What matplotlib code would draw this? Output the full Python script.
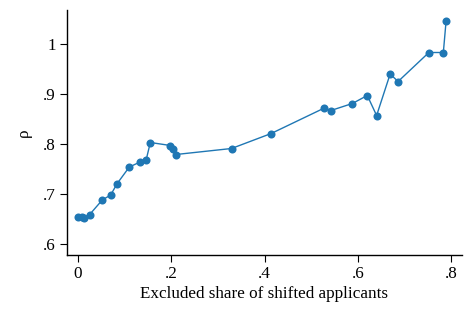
import matplotlib
matplotlib.use("Agg")
import matplotlib.pyplot as plt

share_excluded = [0.001, 0.009, 0.0135, 0.025, 0.052, 0.070, 0.084, 0.110, 0.133, 0.146,
                  0.155, 0.198, 0.204, 0.210, 0.329, 0.414, 0.528, 0.542, 0.588, 0.620,
                  0.640, 0.669, 0.686, 0.752, 0.783, 0.789]
rho = [0.654, 0.655, 0.652, 0.659, 0.688, 0.698, 0.721, 0.754, 0.764, 0.768,
       0.803, 0.797, 0.791, 0.779, 0.791, 0.821, 0.872, 0.867, 0.881, 0.897,
       0.857, 0.940, 0.925, 0.983, 0.983, 1.047]

x_ticks = [0, 0.2, 0.4, 0.6, 0.8]
x_ticklabels = ["0", ".2", ".4", ".6", ".8"]
y_ticks = [0.6, 0.7, 0.8, 0.9, 1.0]
y_ticklabels = [".6", ".7", ".8", ".9", "1"]

plt.rcParams['font.family'] = ['Liberation Serif', 'DejaVu Serif']

fig = plt.figure(figsize=(4.65, 3.09), dpi=100)
ax = fig.add_axes([67/465, 1-255/309, (462-67)/465, (255-10)/309])
ax.plot(share_excluded, rho, color='#1f77b4', linewidth=1.0, marker='o',
        markersize=5.8, markeredgewidth=0)
ax.set_xlim(-0.0236, 0.823)
ax.set_ylim(0.578, 1.068)
ax.set_xticks(x_ticks)
ax.set_xticklabels(x_ticklabels)
ax.set_yticks(y_ticks)
ax.set_yticklabels(y_ticklabels)
ax.spines['top'].set_visible(False)
ax.spines['right'].set_visible(False)
for s in ['left', 'bottom']:
    ax.spines[s].set_linewidth(1.0)
ax.tick_params(direction='out', length=5, width=0.8, labelsize=12.3, pad=3)
ax.set_xlabel("Excluded share of shifted applicants", fontsize=12.3, labelpad=3)
ax.set_ylabel("ρ", fontsize=12.3, rotation=90, labelpad=8)
fig.savefig("out.png", dpi=100)
